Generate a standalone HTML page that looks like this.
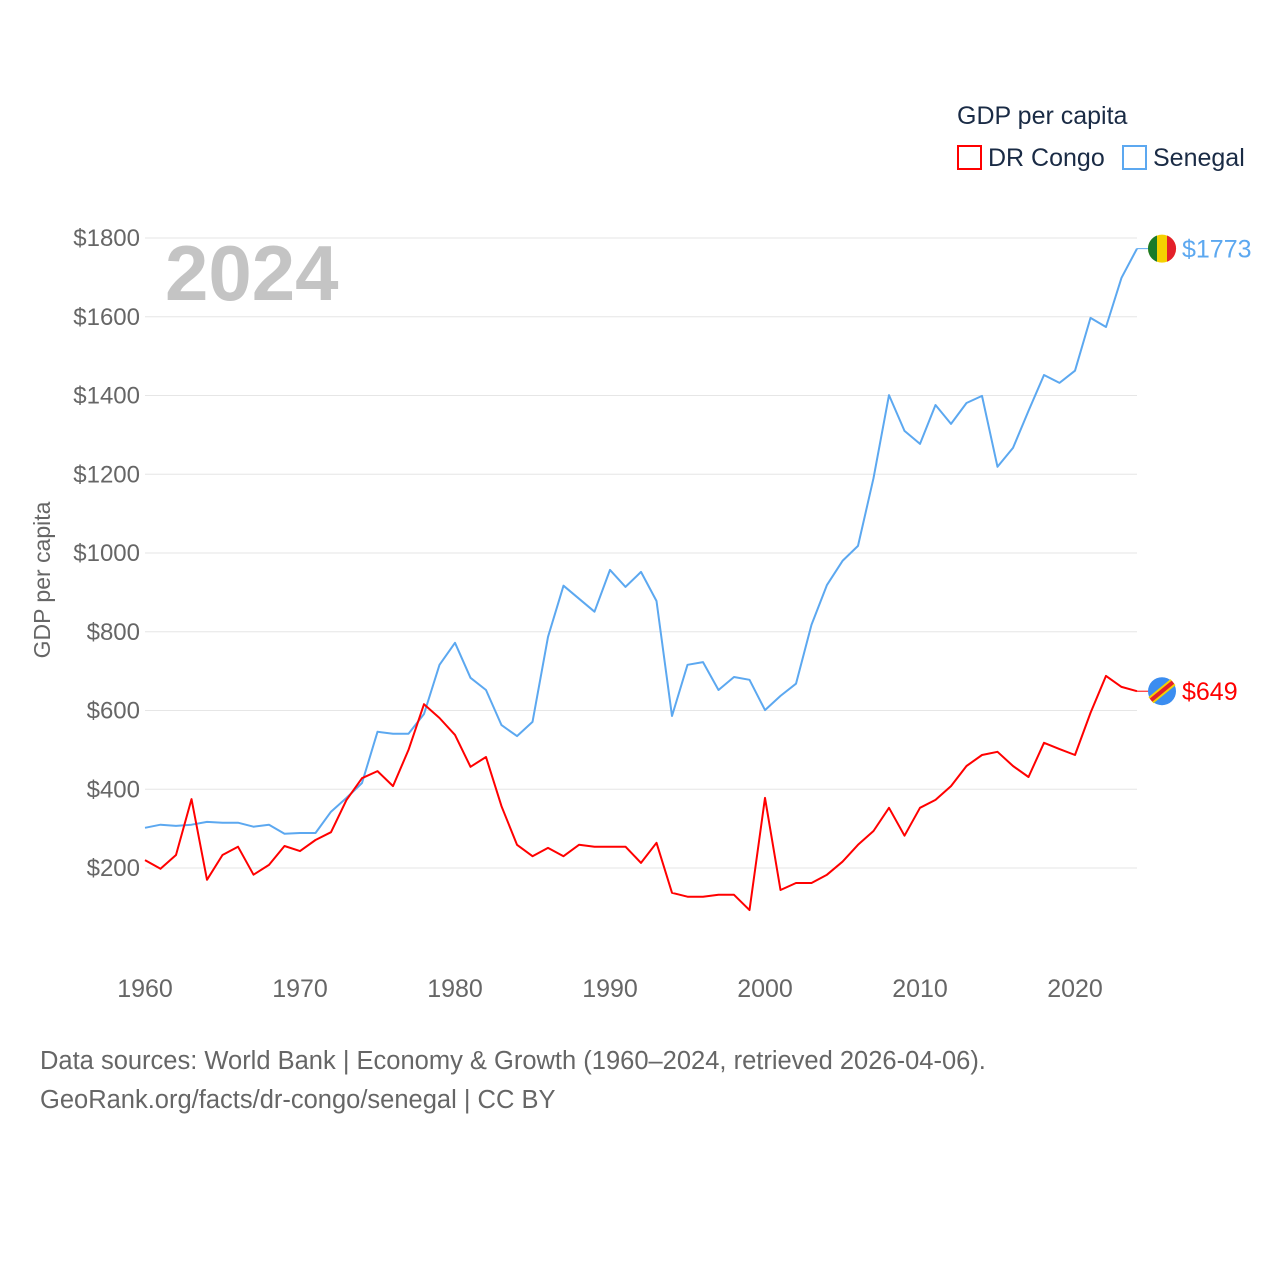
<!DOCTYPE html>
<html><head><meta charset="utf-8">
<style>
body{margin:0;background:#fff;font-family:"Liberation Sans",sans-serif;}
svg text{font-family:"Liberation Sans",sans-serif;}
</style></head>
<body>
<svg id="chart" width="1280" height="1280" viewBox="0 0 1280 1280" xmlns="http://www.w3.org/2000/svg">
<rect width="1280" height="1280" fill="#fff"/>
<text x="957" y="124" font-size="25" fill="#1a2b45">GDP per capita</text>
<g>
<rect x="958" y="146" width="23" height="23" fill="none" stroke="#ff0000" stroke-width="2"/>
<text x="988" y="166" font-size="25" fill="#1a2b45">DR Congo</text></g>
<g>
<rect x="1123" y="146" width="23" height="23" fill="none" stroke="#5ca8f0" stroke-width="2"/>
<text x="1153" y="166" font-size="25" fill="#1a2b45">Senegal</text></g>
<g id="grid"></g>
<g id="yticks"></g>
<g id="xticks"></g>
<text x="165" y="300" font-size="78" font-weight="bold" fill="#c4c4c4">2024</text>
<text transform="translate(50,580) rotate(-90)" text-anchor="middle" font-size="23" fill="#666">GDP per capita</text>
<g id="series"></g>
<text x="40" y="1069" font-size="25.5" fill="#666">Data sources: World Bank | Economy &amp; Growth (1960–2024, retrieved 2026-04-06).</text>
<text x="40" y="1108" font-size="25.5" fill="#666">GeoRank.org/facts/dr-congo/senegal | CC BY</text>
</svg>
<script>
const years=[];for(let y=1960;y<=2024;y++)years.push(y);
const congo=[220,198,233,375,170,233,254,183,208,256,243,271,291,373,428,446,408,500,616,581,538,457,482,357,259,230,251,230,259,254,254,254,213,264,137,127,127,132,132,93,378,144,162,162,183,216,259,294,353,282,353,373,408,459,487,495,459,431,518,502,487,594,688,660,649];
const senegal=[302,310,307,310,317,315,315,305,310,287,289,289,343,378,416,546,541,541,591,716,772,683,652,563,535,571,787,917,884,851,957,914,952,878,586,716,723,652,685,678,601,637,668,818,919,980,1018,1190,1401,1310,1277,1376,1328,1381,1399,1219,1267,1361,1452,1432,1463,1597,1574,1699,1773];
const yTicks=[200,400,600,800,1000,1200,1400,1600,1800];
const xTicks=[1960,1970,1980,1990,2000,2010,2020];
const NS="http://www.w3.org/2000/svg";
const X=y=>145+(y-1960)*15.5;
const Y=v=>946.75-v*0.39375;
function mk(t,a,p){const e=document.createElementNS(NS,t);for(const k in a)e.setAttribute(k,a[k]);p.appendChild(e);return e;}
const grid=document.getElementById('grid'),yt=document.getElementById('yticks'),xt=document.getElementById('xticks'),ser=document.getElementById('series');
yTicks.forEach(v=>{
 const l=mk('line',{x1:145,x2:1137,y1:Y(v),y2:Y(v),stroke:'#e6e6e6','stroke-width':1},grid);
 
 
 const t=mk('text',{x:140,y:Y(v)+8,'text-anchor':'end','font-size':24,fill:'#666'},yt);
 t.textContent='$'+v;
 
 
});
xTicks.forEach(v=>{
 const t=mk('text',{x:X(v),y:997,'text-anchor':'middle','font-size':25,fill:'#666'},xt);
 t.textContent=v;
 
 
});
function line(data,color,name){
 const d=data.map((v,i)=>(i?'L':'M')+X(years[i]).toFixed(1)+','+Y(v).toFixed(1)).join('');
 const p=mk('path',{d:d,fill:'none',stroke:color,'stroke-width':2,'stroke-linejoin':'round'},ser);
 
 
 const last=data[data.length-1],lx=X(years[years.length-1]),ly=Y(last);
 mk('line',{x1:lx,x2:lx+12,y1:ly,y2:ly,stroke:color,'stroke-width':1},ser);
 const c=mk('circle',{cx:lx+25,cy:ly,r:14,fill:name==='senegal'?'#f5d000':'#3b8df0'},ser);
 
 
 if(name==='senegal'){
  mk('path',{d:`M${lx+11},${ly} a14,14 0 0 1 ${9},-13.1 v26.2 a14,14 0 0 1 -9,-13.1z`,fill:'#1a7a2a'},ser);
  mk('path',{d:`M${lx+30},${ly-13.1} a14,14 0 0 1 0,26.2z`,fill:'#e3202a'},ser);
 }else{
  mk('line',{x1:lx+14,y1:ly+9,x2:lx+36,y2:ly-9,stroke:'#f5d000','stroke-width':8},ser);
  mk('line',{x1:lx+14,y1:ly+9,x2:lx+36,y2:ly-9,stroke:'#e3202a','stroke-width':4},ser);
 }
 const t=mk('text',{x:lx+45,y:ly+9,'font-size':25,fill:color},ser);
 t.textContent='$'+last;
 
 
}
line(senegal,'#5ca8f0','senegal');
line(congo,'#ff0000','dr-congo');
</script>
</body></html>
